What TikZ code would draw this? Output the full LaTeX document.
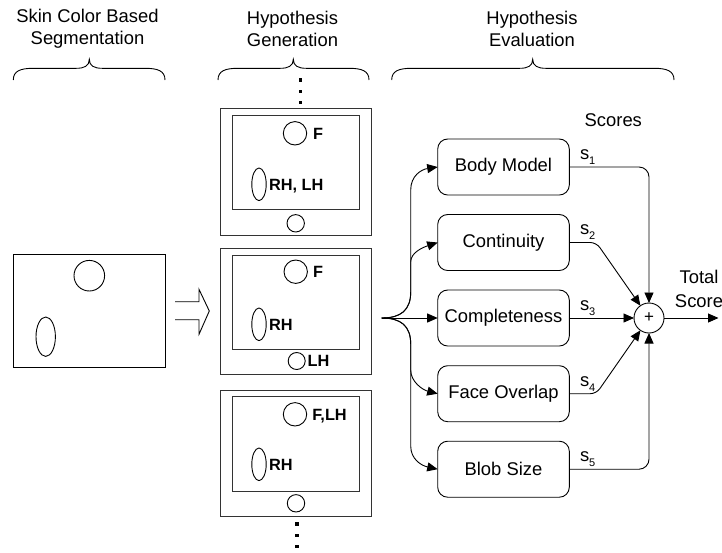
\documentclass[tikz,border=0pt]{standalone}
\usepackage{fontspec}
\setmainfont{Liberation Sans}
\usetikzlibrary{arrows.meta,calc}

% curly brace over a column: left end, tip, right end (x values)
\newcommand{\colbrace}[3]{%
  \draw[line width=0.9pt] (#1,80) .. controls (#1,71) and (#1+7,68.3) .. (#1+20,68.3)
    -- (#2-13,68.3) .. controls (#2-5,68.3) and (#2,66) .. (#2,59.3)
    .. controls (#2,66) and (#2+5,68.3) .. (#2+13,68.3)
    -- (#3-20,68.3) .. controls (#3-7,68.3) and (#3,71) .. (#3,80);}

% s label with lowered index
\newcommand{\scorelab}[1]{s\raisebox{-5pt}{\fontsize{11}{12}\selectfont #1}}

\begin{document}
\begin{tikzpicture}[x=1pt,y=-1pt,
  every node/.style={inner sep=0pt,outer sep=0pt},
  lbl/.style={font=\fontsize{18.4}{22}\selectfont,align=center},
  tag/.style={font=\bfseries\fontsize{16.3}{18}\selectfont,anchor=west,text height=11.7pt,text depth=0pt},
  evalbox/.style={draw,line width=0.9pt,rounded corners=10pt,minimum width=131.6pt,minimum height=56pt,font=\fontsize{18.4}{22}\selectfont},
  slab/.style={font=\fontsize{18.4}{22}\selectfont,anchor=base west},
  tip/.style={line width=0.9pt,-{Triangle[length=10.5pt,width=9pt]}},
  thin/.style={line width=0.9pt},
  framebox/.style={line width=0.95pt,draw=black!80},
  dot/.style={fill=black}
]
\useasboundingbox (0,0) rectangle (722,552);

% column titles and braces
\node[lbl] (t1) at (87.5,28.6) {Skin Color Based\\Segmentation};
\node[lbl] (t2) at (292.5,28.6) {Hypothesis\\Generation};
\node[lbl] (t3) at (532,28.6) {Hypothesis\\Evaluation};
\colbrace{13.3}{89.3}{165}
\colbrace{218}{293.3}{369}
\colbrace{391.7}{532.7}{674}

% segmentation image
\node[draw,thin,minimum width=151.7pt,minimum height=113.4pt] (seg) at (89.15,311) {};
\draw[thin] (89.3,275.7) circle[radius=15.3pt];
\draw[thin] (45.7,336.7) ellipse[x radius=9.7pt,y radius=19.7pt];

% hollow arrow
\draw[thin,line join=miter] (175,301.7) -- (199,301.7) -- (199,289.3) -- (209.3,311)
  -- (199,334.3) -- (199,319.7) -- (175,319.7);

% hypotheses
\foreach \y in {80,91.5,102.5} \fill[dot] (300.5-1.6,\y-1.6) rectangle ++(3.3,3.3);
\foreach \y in {524,535.5,546.5} \fill[dot] (297-1.6,\y-1.6) rectangle ++(3.3,3.3);

% hypothesis 1
\draw[framebox] (220,108.3) rectangle (371.7,235);
\draw[framebox] (232.3,115) rectangle (359,209);
\draw[thin] (295,133.3) circle[radius=11.7pt];
\node[tag] (h1f) at (313,133.3) {F};
\draw[thin] (259,184.3) ellipse[x radius=7.2pt,y radius=16.3pt];
\node[tag] (h1rh) at (269,184.3) {RH, LH};
\draw[thin] (295.7,223.3) circle[radius=8.7pt];

% hypothesis 2
\draw[framebox] (220,248.3) rectangle (371.7,374.3);
\draw[framebox] (232.3,255) rectangle (359,349);
\draw[thin] (295.7,271.7) circle[radius=11.7pt];
\node[tag] (h2f) at (313,271.7) {F};
\draw[thin] (259,324.3) ellipse[x radius=7.2pt,y radius=16.3pt];
\node[tag] (h2rh) at (269,324.3) {RH};
\draw[thin] (296.7,361) circle[radius=8.5pt];
\node[tag] (h2lh) at (307.7,361) {LH};

% hypothesis 3
\draw[framebox] (220,390) rectangle (371.7,516);
\draw[framebox] (232.3,396.7) rectangle (359,491);
\draw[thin] (295,414.3) circle[radius=11.7pt];
\node[tag] (h3f) at (312.3,414.3) {F,LH};
\draw[thin] (259,464.3) ellipse[x radius=7.2pt,y radius=16.3pt];
\node[tag] (h3rh) at (269,464.3) {RH};
\draw[thin] (296,503.3) circle[radius=8.7pt];

% evaluation modules
\node[evalbox] (bm) at (503.5,167) {Body Model};
\node[evalbox] (ct) at (503.5,242.5) {Continuity};
\node[evalbox] (cp) at (503.5,318) {Completeness};
\node[evalbox] (fo) at (503.5,393.7) {Face Overlap};
\node[evalbox] (bs) at (503.5,469.2) {Blob Size};

\node[draw,circle,thin,minimum size=30pt,font=\fontsize{17}{18}\selectfont] (sum) at (649,318) {+};
\coordinate (out) at (718.5,318);
\coordinate (fork) at (381.7,318);

\node[lbl] (scores) at (613.3,120) {Scores};
\node[lbl,font=\fontsize{18.4}{24}\selectfont] (total) at (699,288.6) {Total\\Score};

% fan-out to the modules
\draw[tip] (fork) -- (cp.west);
\draw[tip] (fork) .. controls (401,318) and (410.7,310) .. (410.7,292) -- (410.7,190)
  .. controls (410.7,176) and (421,169.5) .. (bm.west);
\draw[tip] (fork) .. controls (401,318) and (410.7,310) .. (410.7,292) -- (410.7,262)
  .. controls (410.7,252) and (424,247) .. (ct.west);
\draw[tip] (fork) .. controls (401,318) and (410.7,326) .. (410.7,344) -- (410.7,370)
  .. controls (410.7,382) and (423,390) .. (fo.west);
\draw[tip] (fork) .. controls (401,318) and (410.7,326) .. (410.7,344) -- (410.7,446)
  .. controls (410.7,459) and (421,465.5) .. (bs.west);

% scores into the sum
\draw[tip,rounded corners=10pt] (bm.east) -| (sum.north);
\draw[tip,rounded corners=6pt] (ct.east) -- ++(27,0) -- (sum);
\draw[tip] (cp.east) -- (sum.west);
\draw[tip,rounded corners=6pt] (fo.east) -- ++(27,0) -- (sum);
\draw[tip,rounded corners=10pt] (bs.east) -| (sum.south);
\draw[tip] (sum.east) -- (out);

\node[slab] (s1) at ($(bm.east)+(10.7,-7.7)$) {\scorelab{1}};
\node[slab] (s2) at ($(ct.east)+(10.7,-7.7)$) {\scorelab{2}};
\node[slab] (s3) at ($(cp.east)+(10.7,-7.7)$) {\scorelab{3}};
\node[slab] (s4) at ($(fo.east)+(10.7,-7.7)$) {\scorelab{4}};
\node[slab] (s5) at ($(bs.east)+(10.7,-7.7)$) {\scorelab{5}};
\end{tikzpicture}
\end{document}
